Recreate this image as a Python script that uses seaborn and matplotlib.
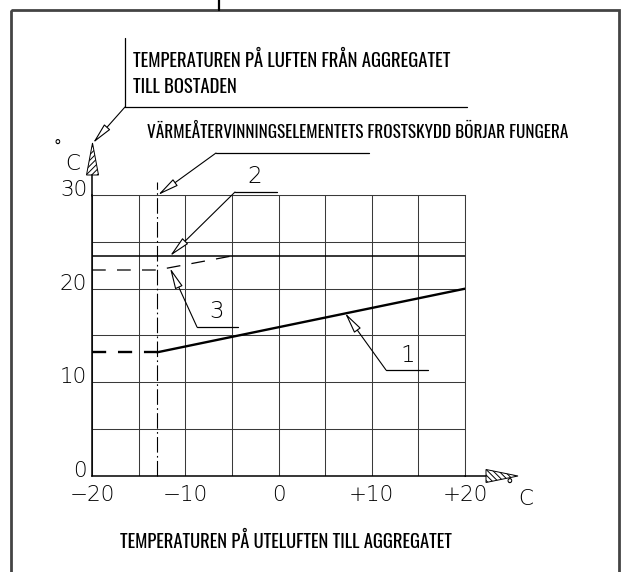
import matplotlib
matplotlib.use('Agg')
import matplotlib.pyplot as plt
from matplotlib.patches import Polygon, Rectangle
from matplotlib.transforms import ScaledTranslation
import pandas as pd
import seaborn as sns

# data (outdoor temp -> supply air temp, deg C)
line1_x = [-20, -13, 20]
line1_y = [13.2, 13.2, 20.0]
line2_x = [-20, 20]
line2_y = [23.5, 23.5]
line3_x = [-20, -13, -5]
line3_y = [22.0, 22.0, 23.5]
frost_x = -13
frost_top = 31.4

x_ticks = [-20, -15, -10, -5, 0, 5, 10, 15, 20]
x_labels = ['\u221220', '', '\u221210', '', '0', '', '+10', '', '+20']
y_ticks = [0, 5, 10, 15, 20, 25, 30]
y_labels = ['0', '', '10', '', '20', '', '30']

TITLE_TOP = ['TEMPERATUREN PÅ LUFTEN FRÅN AGGREGATET', 'TILL BOSTADEN']
TITLE_FROST = 'VÄRMEÅTERVINNINGSELEMENTETS FROSTSKYDD BÖRJAR FUNGERA'
TITLE_X = 'TEMPERATUREN PÅ UTELUFTEN TILL AGGREGATET'

COND = ['Oswald', 'Barlow Condensed', 'Roboto Condensed', 'Liberation Sans Narrow', 'DejaVu Sans']
THIN = ['DejaVu Sans']
NUM_FS = 15.5
TXT_FS = 13.5

sns.set_style('white')
plt.rcParams['hatch.linewidth'] = 0.7
plt.rcParams['text.color'] = 'black'

W, H = 623, 572
fig = plt.figure(figsize=(W / 100, H / 100), dpi=100)
ax = fig.add_axes([92 / W, (H - 475.7) / H, 373 / W, (475.7 - 195.2) / H])
ax.set_xlim(-20, 20)
ax.set_ylim(0, 30)
ax.set_xticks(x_ticks, x_labels)
ax.set_yticks(y_ticks, y_labels)
ax.grid(True, color='#3a3a3a', lw=0.75)
ax.tick_params(length=0, labelsize=NUM_FS, labelcolor='black')
ax.tick_params(axis='x', pad=6.5)
ax.tick_params(axis='y', pad=3.5)
for lab in ax.get_xticklabels() + ax.get_yticklabels():
    lab.set_family(THIN)
    lab.set_fontweight('light')
for lab in ax.get_yticklabels():
    lab.set_transform(lab.get_transform() + ScaledTranslation(0, 7 / 100, fig.dpi_scale_trans))
for s in ['top', 'right']:
    ax.spines[s].set_color('#3a3a3a')
    ax.spines[s].set_linewidth(0.75)
for s in ['left', 'bottom']:
    ax.spines[s].set_color('black')
    ax.spines[s].set_linewidth(1.1)

# curve 2: horizontal solid
sns.lineplot(x=line2_x, y=line2_y, ax=ax, color='black', lw=1.1, sort=False, estimator=None)
# curve 3: dashed
sns.lineplot(x=line3_x, y=line3_y, ax=ax, color='black', lw=0.9, sort=False, estimator=None)
ax.lines[-1].set_dashes([11, 9])
# curve 1: dashed part then solid
d1 = pd.DataFrame({'x': line1_x, 'y': line1_y})
sns.lineplot(data=d1.iloc[:2], x='x', y='y', ax=ax, color='black', lw=1.7, sort=False, estimator=None)
ax.lines[-1].set_dashes([6, 5])
sns.lineplot(data=d1.iloc[1:], x='x', y='y', ax=ax, color='black', lw=1.7, sort=False, estimator=None)
# frost-protection start: dash-dot vertical
ax.plot([frost_x, frost_x], [0, frost_top], color='black', lw=0.8, clip_on=False,
        dashes=[14, 3, 1.5, 3])
ax.set_xlabel('')
ax.set_ylabel('')

# overlay in drawing pixel coordinates for frame, leaders and captions
ov = fig.add_axes([0, 0, 1, 1], zorder=5)
ov.set_xlim(0, W)
ov.set_ylim(H, 0)
ov.axis('off')
ov.patch.set_alpha(0)

ov.add_patch(Rectangle((11, 9.5), 608, 600, fill=False, ec='#444444', lw=2.0))
ov.plot([219, 219], [0, 9.5], color='black', lw=1.6)

# axis extensions and hatched arrowheads
ov.plot([92.3, 92.3], [196, 175], color='black', lw=1.1)
ov.plot([465, 486], [475.7, 475.7], color='black', lw=1.1)
ov.add_patch(Polygon([(86.5, 175), (98.5, 175), (92.5, 143)], closed=True,
                     fc='white', ec='black', lw=0.7, hatch='//////'))
ov.add_patch(Polygon([(486, 469.5), (486, 482.5), (518, 476)], closed=True,
                     fc='white', ec='black', lw=0.7, hatch='\\\\\\\\\\\\'))
ov.text(57, 146, '°', fontsize=11, family=THIN, ha='center', va='center')
ov.text(65, 170, 'C', fontsize=NUM_FS, family=THIN, fontweight='light', ha='left', va='baseline')
ov.text(509, 485, '°', fontsize=11, family=THIN, ha='center', va='center')
ov.text(518, 505, 'C', fontsize=NUM_FS, family=THIN, fontweight='light', ha='left', va='baseline')

def leader(p_from, p_to):
    ov.annotate('', xy=p_to, xytext=p_from,
                arrowprops=dict(arrowstyle='-|>,head_length=1.3,head_width=0.25',
                                mutation_scale=10, lw=0.8, fc='white', ec='black',
                                shrinkA=0, shrinkB=0))

# caption for supply air
ov.plot([125, 125], [38, 107], color='black', lw=0.9)
ov.plot([125, 467], [107, 107], color='black', lw=0.9)
leader((125, 107), (93, 143))
ov.text(133, 67, TITLE_TOP[0], family=COND, fontsize=TXT_FS, va='baseline')
ov.text(133, 93, TITLE_TOP[1], family=COND, fontsize=TXT_FS, va='baseline')

# frost protection caption
ov.text(147, 138, TITLE_FROST, family=COND, fontsize=12.4, va='baseline')
ov.plot([216, 369], [153, 153], color='black', lw=0.9)
leader((216, 153), (158, 195))

# curve labels
ov.text(247, 183, '2', family=THIN, fontsize=NUM_FS + 1, fontweight='light', va='baseline')
ov.plot([235, 277], [192, 192], color='black', lw=0.9)
leader((235, 192), (170, 256))
ov.text(209, 318, '3', family=THIN, fontsize=NUM_FS + 1, fontweight='light', va='baseline')
ov.plot([197, 238], [327, 327], color='black', lw=0.9)
leader((197, 327), (170, 268))
ov.text(400, 362, '1', family=THIN, fontsize=NUM_FS + 1, fontweight='light', va='baseline')
ov.plot([386, 428], [370, 370], color='black', lw=0.9)
leader((386, 370), (345, 313))

ov.text(120, 548, TITLE_X, family=COND, fontsize=13.45, va='baseline')

fig.savefig('out.png', dpi=100)
